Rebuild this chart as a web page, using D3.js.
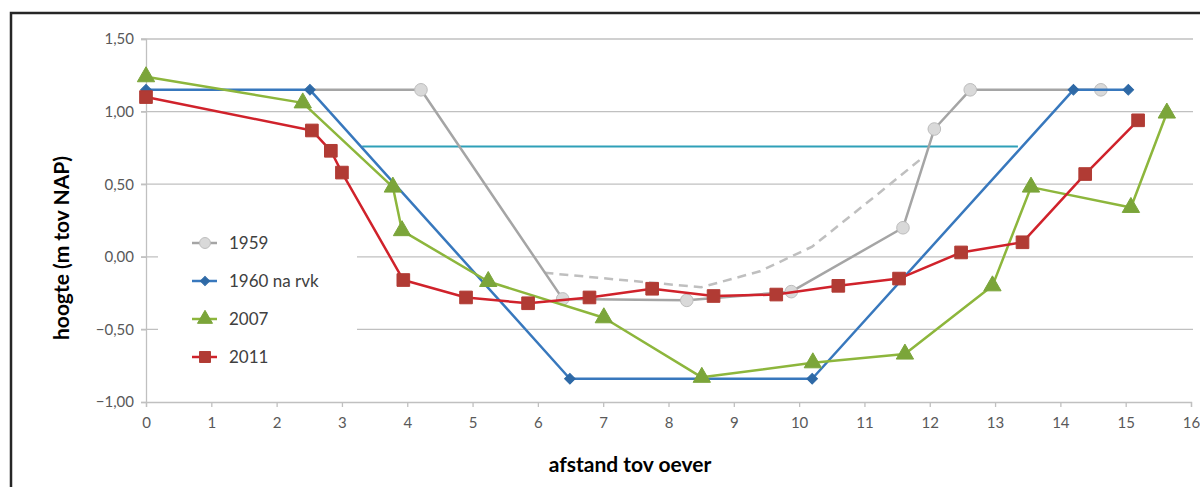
<!DOCTYPE html>
<html>
<head>
<meta charset="utf-8">
<script src="https://cdn.jsdelivr.net/npm/d3@7"></script>
<style>
  html, body { margin: 0; padding: 0; background: #fff; }
  svg { display: block; }
  text { font-family: "Lato", "Open Sans", sans-serif; }
</style>
</head>
<body>
<svg id="chart" width="1200" height="487"></svg>
<script>
// ---- data ----
const xTicks = [0,1,2,3,4,5,6,7,8,9,10,11,12,13,14,15,16];
const yTicks = [-1.0,-0.5,0.0,0.5,1.0,1.5];

const s1959_x = [2.5, 4.21, 6.38, 8.28, 9.88, 11.59, 12.07, 12.62, 14.62];
const s1959_y = [1.15, 1.15, -0.29, -0.30, -0.24, 0.20, 0.88, 1.15, 1.15];

const s1960_x = [0, 2.51, 6.49, 10.2, 14.2, 15.04];
const s1960_y = [1.15, 1.15, -0.84, -0.84, 1.15, 1.15];

const s2007_x = [0, 2.4, 3.78, 3.92, 5.24, 7.01, 8.51, 10.21, 11.62, 12.96, 13.55, 15.08, 15.63];
const s2007_y = [1.24, 1.06, 0.48, 0.18, -0.17, -0.42, -0.83, -0.73, -0.67, -0.20, 0.48, 0.34, 0.99];

const s2011_x = [0, 2.54, 2.83, 3.0, 3.94, 4.9, 5.85, 6.79, 7.75, 8.69, 9.65, 10.6, 11.53, 12.48, 13.42, 14.38, 15.19];
const s2011_y = [1.10, 0.87, 0.73, 0.58, -0.16, -0.28, -0.32, -0.28, -0.22, -0.27, -0.26, -0.20, -0.15, 0.03, 0.10, 0.57, 0.94];

const dashed_x = [6.1, 8.5, 9.4, 10.2, 11.2, 11.91];
const dashed_y = [-0.11, -0.21, -0.10, 0.07, 0.43, 0.69];

const level_x = [3.31, 13.35];
const level_y = [0.76, 0.76];

const legendLabels = ["1959", "1960 na rvk", "2007", "2011"];

// ---- drawing ----
const svg = d3.select("#chart");
const x = d3.scaleLinear().domain([0, 16]).range([146, 1191]);
const y = d3.scaleLinear().domain([-1, 1.5]).range([402, 39]);

// outer border
svg.append("rect").attr("x", 11).attr("y", 13).attr("width", 1220).attr("height", 500)
  .attr("fill", "none").attr("stroke", "#262626").attr("stroke-width", 2.5);

// gridlines
svg.append("g").selectAll("line").data(yTicks.filter(d => d > -1)).join("line")
  .attr("x1", 141).attr("x2", 1193)
  .attr("y1", d => y(d)).attr("y2", d => y(d))
  .attr("stroke", "#c0c0c0").attr("stroke-width", 1.3);

// y axis
const yAxis = d3.axisLeft(y).tickValues(yTicks).tickSize(5).tickPadding(7)
  .tickFormat(d => d3.format(".2f")(d).replace(".", ","));
const gy = svg.append("g").attr("transform", "translate(146,0)").call(yAxis);
gy.select(".domain").attr("stroke", "#c0c0c0").attr("stroke-width", 1.3);
gy.selectAll(".tick line").attr("stroke", "#c0c0c0").attr("stroke-width", 1.3);
gy.selectAll(".tick text").attr("fill", "#595959").style("font-size", "15px")
  .style("font-family", "Lato, sans-serif");

// x axis
const xAxis = d3.axisBottom(x).tickValues(xTicks).tickSize(5).tickPadding(10)
  .tickFormat(d3.format("d"));
const gx = svg.append("g").attr("transform", "translate(0,402)").call(xAxis);
gx.select(".domain").attr("stroke", "#c0c0c0").attr("stroke-width", 1.3);
gx.selectAll(".tick line").attr("stroke", "#c0c0c0").attr("stroke-width", 1.3);
gx.selectAll(".tick text").attr("fill", "#595959").style("font-size", "15px")
  .style("font-family", "Lato, sans-serif");

// axis titles
svg.append("text").attr("x", 630).attr("y", 472).attr("text-anchor", "middle")
  .style("font-size", "21px").style("font-weight", "bold").attr("fill", "#000")
  .text("afstand tov oever");
svg.append("text").attr("transform", "translate(69,248) rotate(-90)").attr("text-anchor", "middle")
  .style("font-size", "21px").style("font-weight", "bold").attr("fill", "#000")
  .text("hoogte (m tov NAP)");

const line = d3.line().x(d => x(d[0])).y(d => y(d[1]));
const zip = (a, b) => a.map((v, i) => [v, b[i]]);

// legend background (covers gridlines)
svg.append("rect").attr("x", 158).attr("y", 222).attr("width", 199).attr("height", 156).attr("fill", "#fff");

// water level line
svg.append("path").datum(zip(level_x, level_y)).attr("d", line)
  .attr("fill", "none").attr("stroke", "#2fa0b8").attr("stroke-width", 2);

// dashed 1959 line
svg.append("path").datum(zip(dashed_x, dashed_y)).attr("d", line)
  .attr("fill", "none").attr("stroke", "#bfbfbf").attr("stroke-width", 2.5)
  .attr("stroke-dasharray", "9,6");

const sym = (type, size) => d3.symbol().type(type).size(size)();

const series = [
  { name: legendLabels[0], xs: s1959_x, ys: s1959_y, line: "#a5a5a5", fill: "#d9d9d9", stroke: "#bdbdbd",
    shape: d3.symbolCircle, size: 125, rot: 0, skipFirst: true },
  { name: legendLabels[1], xs: s1960_x, ys: s1960_y, line: "#3878bd", fill: "#2e69a6", stroke: "#2e69a6",
    shape: d3.symbolSquare, size: 56, rot: 45 },
  { name: legendLabels[2], xs: s2007_x, ys: s2007_y, line: "#8db63c", fill: "#7ba53a", stroke: "#7ba53a",
    shape: d3.symbolTriangle, size: 130, rot: 0 },
  { name: legendLabels[3], xs: s2011_x, ys: s2011_y, line: "#d0222b", fill: "#b13b34", stroke: "#b13b34",
    shape: d3.symbolSquare, size: 160, rot: 0 }
];

series.forEach(s => {
  const pts = zip(s.xs, s.ys);
  svg.append("path").datum(pts).attr("d", line)
    .attr("fill", "none").attr("stroke", s.line).attr("stroke-width", 2.5).attr("stroke-linejoin", "round");
  svg.append("g").selectAll("path").data(s.skipFirst ? pts.slice(1) : pts).join("path")
    .attr("transform", d => `translate(${x(d[0])},${y(d[1])}) rotate(${s.rot})`)
    .attr("d", sym(s.shape, s.size))
    .attr("fill", s.fill).attr("stroke", s.stroke).attr("stroke-width", 1);
});

// legend
const lg = svg.append("g");
series.forEach((s, i) => {
  const cy = 243 + i * 38;
  lg.append("line").attr("x1", 192).attr("x2", 217).attr("y1", cy).attr("y2", cy)
    .attr("stroke", s.line).attr("stroke-width", 2.5);
  lg.append("path").attr("transform", `translate(205,${cy}) rotate(${s.rot})`)
    .attr("d", sym(s.shape, s.size * 0.75)).attr("fill", s.fill).attr("stroke", s.stroke);
  lg.append("text").attr("x", 229).attr("y", cy + 6).attr("fill", "#404040")
    .style("font-size", "17px").text(s.name);
});
</script>
</body>
</html>
